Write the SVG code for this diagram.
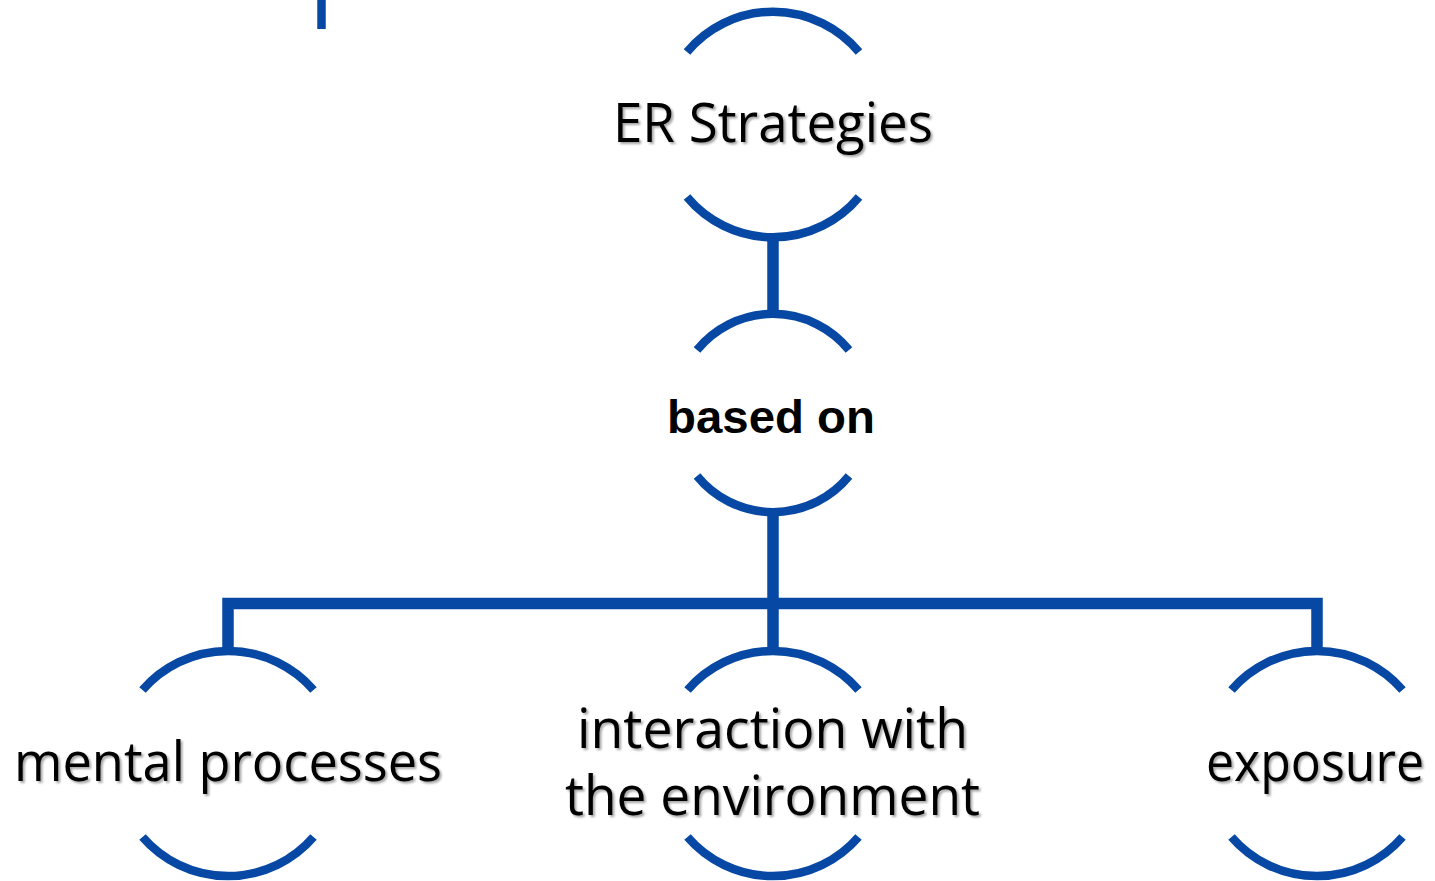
<svg xmlns="http://www.w3.org/2000/svg" width="1435" height="881" viewBox="0 0 1435 881">
  <defs>
    <filter id="sh" x="-5%" y="-20%" width="110%" height="140%">
      <feDropShadow dx="2" dy="2" stdDeviation="1.2" flood-color="#000" flood-opacity="0.35"/>
    </filter>
  </defs>
  <style>
    .arc { fill: none; stroke: #0648A3; stroke-width: 8.5; }
    .conn { fill: none; stroke: #0648A3; stroke-width: 11.5; stroke-linejoin: miter; }
    .lbl { font-family: "Open Sans", "Noto Sans", sans-serif; font-size: 54px; fill: #000; text-anchor: middle; filter: url(#sh); }
    .bold { font-family: "Liberation Sans", Arial, sans-serif; font-weight: bold; font-size: 47px; fill: #000; text-anchor: middle; }
  </style>
  <rect width="1435" height="881" fill="#fff"/>
  <line x1="321.5" y1="0" x2="321.5" y2="29" stroke="#0648A3" stroke-width="8.5"/>
  <g id="connectors">
    <path class="conn" d="M773,236 V316"/>
    <path class="conn" d="M773,511 V652"/>
    <path class="conn" d="M228,652 V603.5 H1317 V652"/>
  </g>
  <g id="node-er">
    <path class="arc" d="M687,52 A112,112 0 0 1 859,52"/>
    <path class="arc" d="M687,197 A112,112 0 0 0 859,197"/>
    <text class="lbl" x="773" y="142" textLength="320" lengthAdjust="spacingAndGlyphs">ER Strategies</text>
  </g>
  <g id="node-based">
    <path class="arc" d="M697,350 A98,98 0 0 1 849,350"/>
    <path class="arc" d="M697,476 A98,98 0 0 0 849,476"/>
    <text class="bold" x="771" y="433" textLength="208" lengthAdjust="spacingAndGlyphs">based on</text>
  </g>
  <g id="node-mental">
    <path class="arc" d="M142.5,690 A113,113 0 0 1 313.5,690"/>
    <path class="arc" d="M142.5,837 A113,113 0 0 0 313.5,837"/>
    <text class="lbl" x="228" y="781" textLength="428" lengthAdjust="spacingAndGlyphs">mental processes</text>
  </g>
  <g id="node-interaction">
    <path class="arc" d="M687.5,690 A113,113 0 0 1 858.5,690"/>
    <path class="arc" d="M687.5,837 A113,113 0 0 0 858.5,837"/>
    <text class="lbl" x="772.5" y="748" textLength="391" lengthAdjust="spacingAndGlyphs">interaction with</text>
    <text class="lbl" x="772.5" y="815" textLength="415" lengthAdjust="spacingAndGlyphs">the environment</text>
  </g>
  <g id="node-exposure">
    <path class="arc" d="M1231.5,690 A113,113 0 0 1 1402.5,690"/>
    <path class="arc" d="M1231.5,837 A113,113 0 0 0 1402.5,837"/>
    <text class="lbl" x="1315" y="781" textLength="218" lengthAdjust="spacingAndGlyphs">exposure</text>
  </g>
</svg>
